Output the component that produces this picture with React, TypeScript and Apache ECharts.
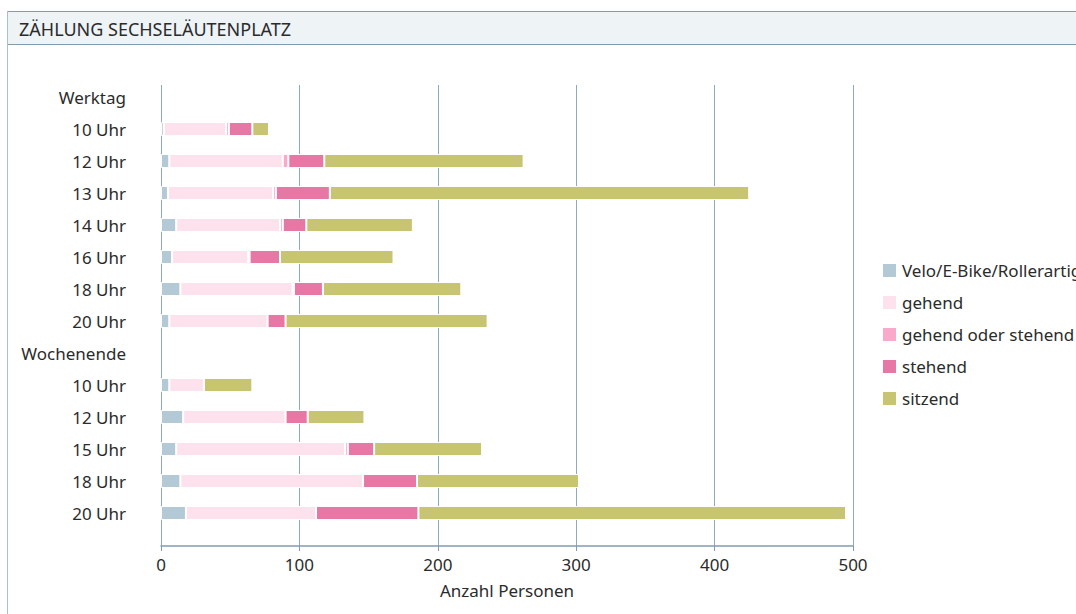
import React, { useEffect, useRef } from "react";
import * as echarts from "echarts";

const categories = [
  "Werktag", "10 Uhr", "12 Uhr", "13 Uhr", "14 Uhr", "16 Uhr", "18 Uhr", "20 Uhr",
  "Wochenende", "10 Uhr", "12 Uhr", "15 Uhr", "18 Uhr", "20 Uhr",
];
const seriesNames = ["Velo/E-Bike/Rollerartig", "gehend", "gehend oder stehend", "stehend", "sitzend"];
const velo = [null, 2, 6, 5, 11, 8, 14, 6, null, 6, 16, 11, 14, 18];
const gehend = [null, 45, 82, 76, 75, 55, 81, 71, null, 25, 74, 122, 132, 94];
const gehendOderStehend = [null, 2, 4, 2, 2, 1, 1, 0, null, 0, 0, 2, 0, 0];
const stehend = [null, 17, 26, 39, 17, 22, 21, 13, null, 0, 16, 19, 39, 74];
const sitzend = [null, 12, 144, 303, 77, 82, 100, 146, null, 35, 41, 78, 117, 309];
const xTicks = [0, 100, 200, 300, 400, 500];
const colors = ["#b3c9d6", "#fde2ee", "#f9aacb", "#e777a5", "#c7c472"];

const FONT = "'Noto Sans', sans-serif";

export default function App() {
  const ref = useRef<HTMLDivElement>(null);
  useEffect(() => {
    if (!ref.current) return;
    const chart = echarts.init(ref.current, undefined, { renderer: "svg" });
    const values = [velo, gehend, gehendOderStehend, stehend, sitzend];
    chart.setOption({
      animation: false,
      textStyle: { fontFamily: FONT },
      title: {
        text: "ZÄHLUNG SECHSELÄUTENPLATZ",
        left: 14,
        top: 15,
        textStyle: { fontFamily: FONT, fontSize: 18, fontWeight: "normal", color: "#2b2b2b", lineHeight: 18 },
      },
      graphic: [
        {
          type: "rect",
          z: -10,
          shape: { x: 7.5, y: 11.5, width: 1100, height: 33 },
          style: { fill: "#eef3f6", stroke: "#7f9db0", lineWidth: 1 },
        },
        {
          type: "line",
          z: -10,
          shape: { x1: 7.5, y1: 11, x2: 7.5, y2: 614 },
          style: { stroke: "#a9bfcc", lineWidth: 1 },
        },
      ],
      legend: {
        orient: "vertical",
        left: 876,
        top: 257,
        itemWidth: 15,
        itemHeight: 15,
        itemGap: 15,
        icon: "rect",
        data: seriesNames,
        textStyle: { fontFamily: FONT, fontSize: 17, color: "#2b2b2b", lineHeight: 17 },
      },
      grid: [
        { left: 161, right: 223, top: 81, height: 448 },
        { left: 161, right: 223, top: 85, height: 461 },
      ],
      xAxis: [
        { type: "value", gridIndex: 0, min: 0, max: 500, show: false, splitLine: { show: false } },
        {
          type: "value",
          gridIndex: 1,
          min: 0,
          max: 500,
          interval: 100,
          name: "Anzahl Personen",
          nameLocation: "middle",
          nameGap: 36,
          nameTextStyle: { fontFamily: FONT, fontSize: 17, color: "#2b2b2b", lineHeight: 17 },
          axisLine: { show: true, lineStyle: { color: "#7f9db0", width: 1.5 } },
          axisTick: { show: true, length: 5, lineStyle: { color: "#7f9db0" } },
          axisLabel: {
            fontFamily: FONT,
            fontSize: 17,
            lineHeight: 17,
            color: "#2b2b2b",
            margin: 10,
            formatter: (v: number) => (xTicks.includes(v) ? String(v) : ""),
          },
          splitLine: { show: true, lineStyle: { color: "#8eabbe", width: 1 } },
        },
      ],
      yAxis: [
        {
          type: "category",
          gridIndex: 0,
          inverse: true,
          data: categories,
          axisLine: { show: false },
          axisTick: { show: false },
          axisLabel: { fontFamily: FONT, fontSize: 17, color: "#2b2b2b", margin: 35 },
        },
        { type: "value", gridIndex: 1, show: false, min: 0, max: 1 },
      ],
      series: seriesNames.map((name, i) => ({
        name,
        type: "bar",
        stack: "total",
        xAxisIndex: 0,
        yAxisIndex: 0,
        barWidth: 14,
        data: values[i],
        itemStyle: { color: colors[i], borderColor: "#ffffff", borderWidth: 1 },
      })),
    });
    return () => chart.dispose();
  }, []);
  return (
    <div
      ref={ref}
      style={{ position: "fixed", left: 0, top: 0, width: 1076, height: 614, background: "#fff" }}
    />
  );
}
